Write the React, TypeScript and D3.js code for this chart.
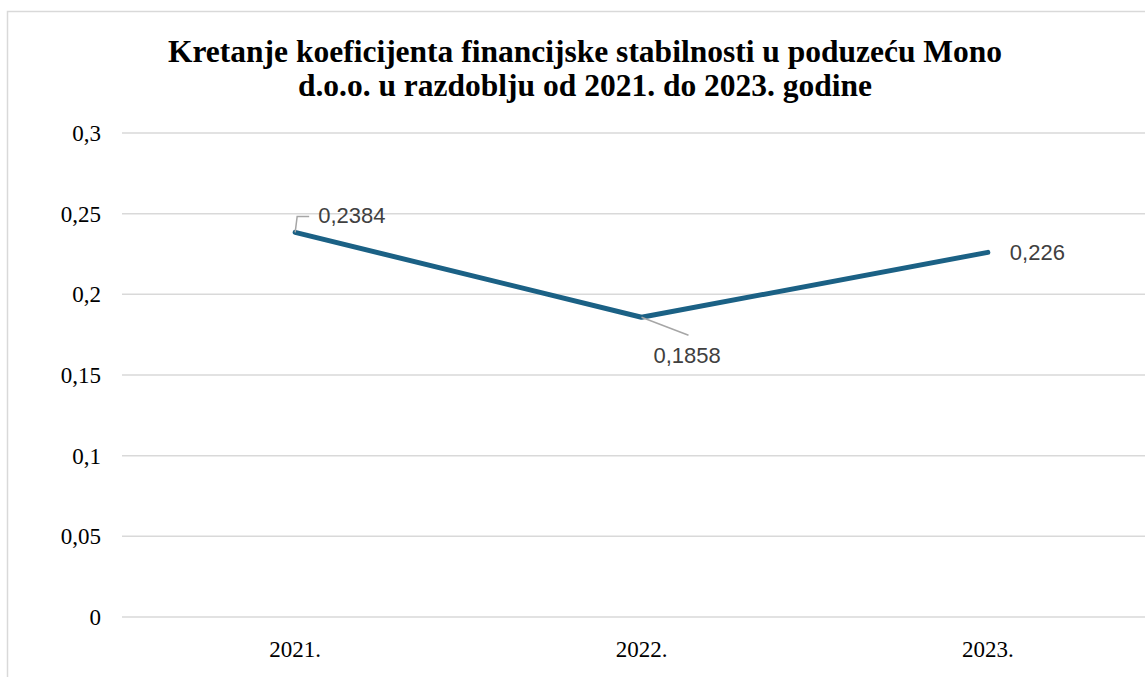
import * as d3 from "d3";
import { useEffect, useRef } from "react";

// ---- 資料 ----
const categories = ["2021.", "2022.", "2023."];
const values = [0.2384, 0.1858, 0.226];
const valueLabels = ["0,2384", "0,1858", "0,226"];
const yTicks = [0, 0.05, 0.1, 0.15, 0.2, 0.25, 0.3];
const yTickLabels = ["0", "0,05", "0,1", "0,15", "0,2", "0,25", "0,3"];
const titleLines = [
  "Kretanje koeficijenta financijske stabilnosti u poduzeću Mono",
  "d.o.o. u razdoblju od 2021. do 2023. godine",
];

export default function App() {
  const ref = useRef<SVGSVGElement | null>(null);

  useEffect(() => {
    const width = 1145;
    const height = 677;
    const svg = d3.select(ref.current).attr("viewBox", `0 0 ${width} ${height}`);
    svg.selectAll("*").remove();

    const left = 122;
    const right = 1161;
    const top = 133;
    const bottom = 617;
    const serif = "'Liberation Serif', 'Times New Roman', serif";

    const x = d3.scaleBand().domain(categories).range([left, right]);
    const y = d3.scaleLinear().domain([0, 0.3]).range([bottom, top]);
    const cx = (c: string) => (x(c) ?? 0) + x.bandwidth() / 2;

    svg.append("rect").attr("width", width).attr("height", height).attr("fill", "#fff");

    // 外框
    svg.append("path")
      .attr("d", `M7.5,${height} V11.5 H${width}`)
      .attr("fill", "none")
      .attr("stroke", "#d9d9d9")
      .attr("stroke-width", 1.5);

    // 標題
    svg.append("g")
      .selectAll("text")
      .data(titleLines)
      .join("text")
      .attr("x", 585)
      .attr("y", (_, i) => 62 + i * 34)
      .attr("text-anchor", "middle")
      .attr("font-family", serif)
      .attr("font-weight", 700)
      .attr("font-size", 31.5)
      .attr("fill", "#000")
      .text((d) => d);

    // 網格線
    svg.append("g")
      .attr("stroke", "#d9d9d9")
      .attr("stroke-width", 1.5)
      .selectAll("line")
      .data(yTicks)
      .join("line")
      .attr("x1", left)
      .attr("x2", right)
      .attr("y1", (d) => y(d))
      .attr("y2", (d) => y(d));

    // Y 軸文字
    svg.append("g")
      .selectAll("text")
      .data(yTicks)
      .join("text")
      .attr("x", 101)
      .attr("y", (d) => y(d) + 8)
      .attr("text-anchor", "end")
      .attr("font-family", serif)
      .attr("font-size", 23)
      .attr("fill", "#000")
      .text((_, i) => yTickLabels[i]);

    // X 軸文字
    svg.append("g")
      .selectAll("text")
      .data(categories)
      .join("text")
      .attr("x", (d) => cx(d))
      .attr("y", 657)
      .attr("text-anchor", "middle")
      .attr("font-family", serif)
      .attr("font-size", 23)
      .attr("fill", "#000")
      .text((d) => d);

    // 折線
    const line = d3.line<number>()
      .x((_, i) => cx(categories[i]))
      .y((d) => y(d));

    svg.append("path")
      .datum(values)
      .attr("d", line)
      .attr("fill", "none")
      .attr("stroke", "#1b6185")
      .attr("stroke-width", 5)
      .attr("stroke-linecap", "round")
      .attr("stroke-linejoin", "round");

    // 引導線
    const p0 = { x: cx(categories[0]), y: y(values[0]) };
    const p1 = { x: cx(categories[1]), y: y(values[1]) };
    svg.append("path")
      .attr("d", `M${p0.x},${p0.y} L${p0.x + 2},${p0.y - 16} H${p0.x + 14}`)
      .attr("fill", "none")
      .attr("stroke", "#a6a6a6")
      .attr("stroke-width", 1.5);
    svg.append("path")
      .attr("d", `M${p1.x},${p1.y} L${p1.x + 47},${p1.y + 18}`)
      .attr("fill", "none")
      .attr("stroke", "#a6a6a6")
      .attr("stroke-width", 1.5);

    // 數值標籤
    const labelOffsets = [
      { dx: 23, dy: -9 },
      { dx: 12, dy: 46 },
      { dx: 22, dy: 8 },
    ];
    svg.append("g")
      .selectAll("text")
      .data(values)
      .join("text")
      .attr("x", (_, i) => cx(categories[i]) + labelOffsets[i].dx)
      .attr("y", (d, i) => y(d) + labelOffsets[i].dy)
      .attr("font-family", "'Liberation Sans', Arial, sans-serif")
      .attr("font-size", 22)
      .attr("fill", "#404040")
      .text((_, i) => valueLabels[i]);
  }, []);

  return (
    <svg
      ref={ref}
      width={1145}
      height={677}
      style={{ position: "absolute", left: 0, top: 0, display: "block" }}
    />
  );
}
